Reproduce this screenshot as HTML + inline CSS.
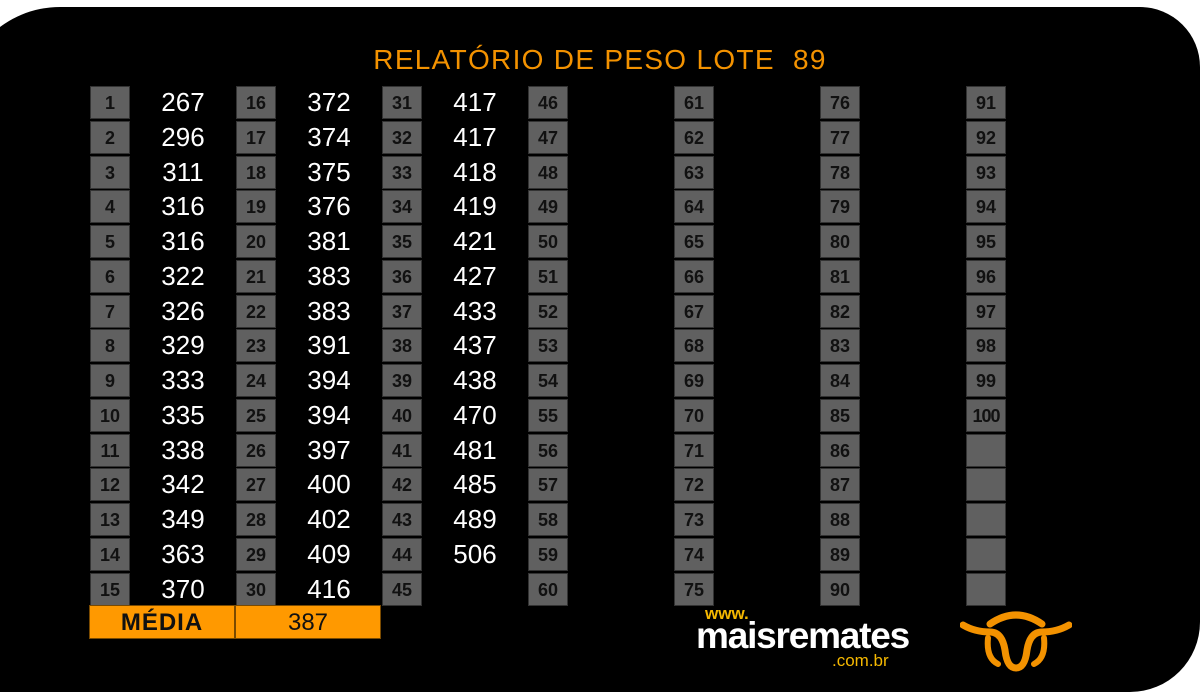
<!DOCTYPE html>
<html><head><meta charset="utf-8"><style>
body{margin:0;width:1200px;height:700px;background:#fff;overflow:hidden;position:relative;font-family:"Liberation Sans",sans-serif}
.bg{position:absolute;left:-40px;top:7px;width:1240px;height:685px;background:#000;border-radius:100px 60px 70px 20px}
.t{position:absolute;top:44px;left:0;width:1200px;text-align:center;color:#f39200;font-size:28px;letter-spacing:1.3px}
.col{position:absolute;top:86px}
.r{height:34.75px;position:relative}
.b{position:absolute;left:0;top:0;width:38px;height:31px;background:#606060;border:1px solid #333;color:#111;font-size:18px;font-weight:bold;text-align:center;line-height:32px}
.v{position:absolute;left:50px;width:86px;top:0;text-align:center;color:#fff;font-size:26px;line-height:33px}
.m{position:absolute;top:605px;height:32px;background:#f90;border:1px solid #7a4a00;color:#111;text-align:center;line-height:34px;font-size:24px}
</style></head><body>
<div class="bg"></div>
<div class="t">RELATÓRIO DE PESO LOTE &nbsp;89</div>
<div class="col" style="left:90px">
<div class="r"><div class="b">1</div><div class="v">267</div></div>
<div class="r"><div class="b">2</div><div class="v">296</div></div>
<div class="r"><div class="b">3</div><div class="v">311</div></div>
<div class="r"><div class="b">4</div><div class="v">316</div></div>
<div class="r"><div class="b">5</div><div class="v">316</div></div>
<div class="r"><div class="b">6</div><div class="v">322</div></div>
<div class="r"><div class="b">7</div><div class="v">326</div></div>
<div class="r"><div class="b">8</div><div class="v">329</div></div>
<div class="r"><div class="b">9</div><div class="v">333</div></div>
<div class="r"><div class="b">10</div><div class="v">335</div></div>
<div class="r"><div class="b">11</div><div class="v">338</div></div>
<div class="r"><div class="b">12</div><div class="v">342</div></div>
<div class="r"><div class="b">13</div><div class="v">349</div></div>
<div class="r"><div class="b">14</div><div class="v">363</div></div>
<div class="r"><div class="b">15</div><div class="v">370</div></div>
</div>
<div class="col" style="left:236px">
<div class="r"><div class="b">16</div><div class="v">372</div></div>
<div class="r"><div class="b">17</div><div class="v">374</div></div>
<div class="r"><div class="b">18</div><div class="v">375</div></div>
<div class="r"><div class="b">19</div><div class="v">376</div></div>
<div class="r"><div class="b">20</div><div class="v">381</div></div>
<div class="r"><div class="b">21</div><div class="v">383</div></div>
<div class="r"><div class="b">22</div><div class="v">383</div></div>
<div class="r"><div class="b">23</div><div class="v">391</div></div>
<div class="r"><div class="b">24</div><div class="v">394</div></div>
<div class="r"><div class="b">25</div><div class="v">394</div></div>
<div class="r"><div class="b">26</div><div class="v">397</div></div>
<div class="r"><div class="b">27</div><div class="v">400</div></div>
<div class="r"><div class="b">28</div><div class="v">402</div></div>
<div class="r"><div class="b">29</div><div class="v">409</div></div>
<div class="r"><div class="b">30</div><div class="v">416</div></div>
</div>
<div class="col" style="left:382px">
<div class="r"><div class="b">31</div><div class="v">417</div></div>
<div class="r"><div class="b">32</div><div class="v">417</div></div>
<div class="r"><div class="b">33</div><div class="v">418</div></div>
<div class="r"><div class="b">34</div><div class="v">419</div></div>
<div class="r"><div class="b">35</div><div class="v">421</div></div>
<div class="r"><div class="b">36</div><div class="v">427</div></div>
<div class="r"><div class="b">37</div><div class="v">433</div></div>
<div class="r"><div class="b">38</div><div class="v">437</div></div>
<div class="r"><div class="b">39</div><div class="v">438</div></div>
<div class="r"><div class="b">40</div><div class="v">470</div></div>
<div class="r"><div class="b">41</div><div class="v">481</div></div>
<div class="r"><div class="b">42</div><div class="v">485</div></div>
<div class="r"><div class="b">43</div><div class="v">489</div></div>
<div class="r"><div class="b">44</div><div class="v">506</div></div>
<div class="r"><div class="b">45</div></div>
</div>
<div class="col" style="left:528px">
<div class="r"><div class="b">46</div></div><div class="r"><div class="b">47</div></div><div class="r"><div class="b">48</div></div><div class="r"><div class="b">49</div></div><div class="r"><div class="b">50</div></div><div class="r"><div class="b">51</div></div><div class="r"><div class="b">52</div></div><div class="r"><div class="b">53</div></div><div class="r"><div class="b">54</div></div><div class="r"><div class="b">55</div></div><div class="r"><div class="b">56</div></div><div class="r"><div class="b">57</div></div><div class="r"><div class="b">58</div></div><div class="r"><div class="b">59</div></div><div class="r"><div class="b">60</div></div>
</div>
<div class="col" style="left:674px">
<div class="r"><div class="b">61</div></div><div class="r"><div class="b">62</div></div><div class="r"><div class="b">63</div></div><div class="r"><div class="b">64</div></div><div class="r"><div class="b">65</div></div><div class="r"><div class="b">66</div></div><div class="r"><div class="b">67</div></div><div class="r"><div class="b">68</div></div><div class="r"><div class="b">69</div></div><div class="r"><div class="b">70</div></div><div class="r"><div class="b">71</div></div><div class="r"><div class="b">72</div></div><div class="r"><div class="b">73</div></div><div class="r"><div class="b">74</div></div><div class="r"><div class="b">75</div></div>
</div>
<div class="col" style="left:820px">
<div class="r"><div class="b">76</div></div><div class="r"><div class="b">77</div></div><div class="r"><div class="b">78</div></div><div class="r"><div class="b">79</div></div><div class="r"><div class="b">80</div></div><div class="r"><div class="b">81</div></div><div class="r"><div class="b">82</div></div><div class="r"><div class="b">83</div></div><div class="r"><div class="b">84</div></div><div class="r"><div class="b">85</div></div><div class="r"><div class="b">86</div></div><div class="r"><div class="b">87</div></div><div class="r"><div class="b">88</div></div><div class="r"><div class="b">89</div></div><div class="r"><div class="b">90</div></div>
</div>
<div class="col" style="left:966px">
<div class="r"><div class="b">91</div></div><div class="r"><div class="b">92</div></div><div class="r"><div class="b">93</div></div><div class="r"><div class="b">94</div></div><div class="r"><div class="b">95</div></div><div class="r"><div class="b">96</div></div><div class="r"><div class="b">97</div></div><div class="r"><div class="b">98</div></div><div class="r"><div class="b">99</div></div><div class="r"><div class="b" style="font-size:18px;letter-spacing:-1px">100</div></div><div class="r"><div class="b"></div></div><div class="r"><div class="b"></div></div><div class="r"><div class="b"></div></div><div class="r"><div class="b"></div></div><div class="r"><div class="b"></div></div>
</div>
<div class="m" style="left:89px;width:144px;font-weight:bold;letter-spacing:1px">MÉDIA</div>
<div class="m" style="left:235px;width:144px">387</div>
<div style="position:absolute;left:705px;top:604px;color:#f5b800;font-size:17px;font-weight:bold">www.</div>
<div style="position:absolute;left:696px;top:615px;color:#fff;font-size:37px;font-weight:bold;letter-spacing:-1.2px">maisremates</div>
<div style="position:absolute;left:832px;top:651px;color:#f5b800;font-size:17px">.com.br</div>
<svg style="position:absolute;left:960px;top:610px" width="112" height="62" viewBox="0 0 112 62">
<g fill="none" stroke="#f39200" stroke-linecap="round">
<path d="M30 14 Q56 -4 82 14" stroke-width="7"/>
<path d="M3 15 Q15 22 30 22 Q42 22 45 40 Q47 58 56 58 Q65 58 67 40 Q70 22 82 22 Q97 22 109 15" stroke-width="7"/>
<path d="M28 28 Q26 48 38 54" stroke-width="6"/>
<path d="M84 28 Q86 48 74 54" stroke-width="6"/>
</g></svg>
</body></html>
